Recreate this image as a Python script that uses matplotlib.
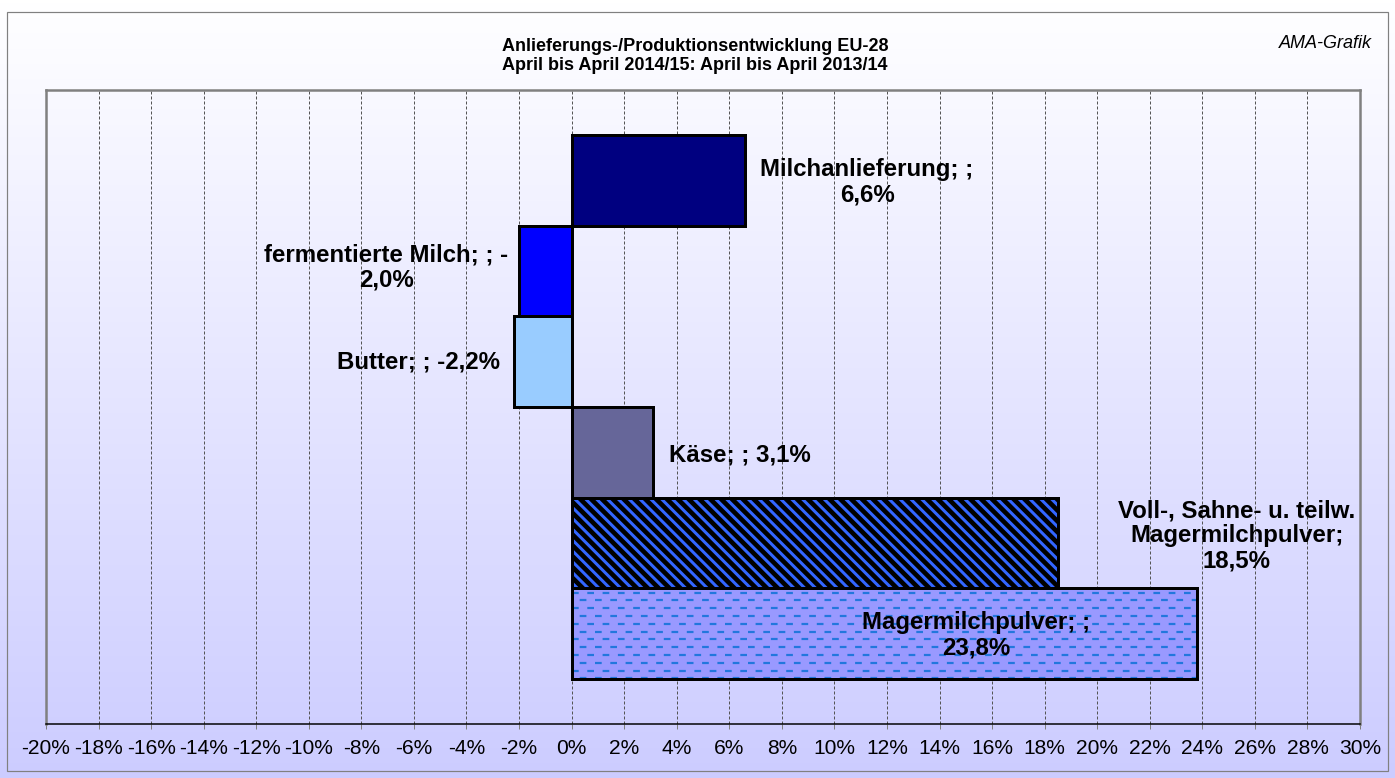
import numpy as np
import matplotlib
matplotlib.use('Agg')
import matplotlib.pyplot as plt
from matplotlib.patches import Rectangle

plt.rcParams['font.family'] = ['Liberation Sans', 'DejaVu Sans']
plt.rcParams['lines.scale_dashes'] = False

DPI = 130
W, H = 1395, 778
def pt(px): return px * 72.0 / DPI   # pixel -> points

# ---- Daten ----
categories = ['Milchanlieferung', 'fermentierte Milch', 'Butter', 'Käse',
              'Voll-, Sahne- u. teilw. Magermilchpulver', 'Magermilchpulver']
values = [6.6, -2.0, -2.2, 3.1, 18.5, 23.8]
labels = ['Milchanlieferung; ;\n6,6%', 'fermentierte Milch; ; -\n2,0%', 'Butter; ; -2,2%',
          'Käse; ; 3,1%', 'Voll-, Sahne- u. teilw.\nMagermilchpulver;\n18,5%',
          'Magermilchpulver; ;\n23,8%']
colors = ['#000080', '#0000ff', '#99ccff', '#666699', '#000000', '#9999ff']
xticks = list(range(-20, 31, 2))
# label offsets (px) from bar end
lab_off = [(122, -2), (-133, 4), (-95, 0), (87, -3), (179, 7), (-221, -2)]

fig = plt.figure(figsize=(W / DPI, H / DPI), dpi=DPI)

# background gradient
bg = fig.add_axes([0, 0, 1, 1], zorder=-10)
grad = np.linspace(0, 1, 256)[:, None]
top = np.array([1.0, 1.0, 1.0]); bot = np.array([0.80, 0.80, 1.0])
img = top[None, None, :] * (1 - grad[:, :, None]) + bot[None, None, :] * grad[:, :, None]
bg.imshow(img, aspect='auto', extent=[0, 1, 0, 1])
bg.set_xlim(0, 1); bg.set_ylim(0, 1); bg.axis('off')
bg.add_patch(Rectangle((7 / W, 1 - 771 / H), 1381 / W, 759 / H, fill=False,
                       edgecolor='#808080', lw=pt(1.2), transform=bg.transAxes))

L, R, T_, B = 46, 1360, 90, 724
ax = fig.add_axes([L / W, 1 - B / H, (R - L) / W, (B - T_) / H])
ax.patch.set_visible(False)

y = np.arange(len(values))
bars = ax.barh(y, values, height=1.0, color=colors, edgecolor='black', lw=pt(3), zorder=3)

# diagonal stripes (Voll-, Sahne- ...)
plt.rcParams['hatch.linewidth'] = pt(3)
ax.barh(y[4], values[4], height=1.0, color='none', edgecolor='#3366ff', hatch='\\\\\\\\', lw=0, zorder=4)
ax.barh(y[4], values[4], height=1.0, color='none', edgecolor='black', lw=pt(3), zorder=5)

# staggered dashes (Magermilchpulver)
b6 = bars[5]
step = 7.8 / ((B - T_) / 7.0)
rows = np.arange(y[5] - 0.5 + 0.05, y[5] + 0.5, step)
styles = [(0 if k % 2 == 0 else pt(7.6), (pt(6.7), pt(8.6))) for k in range(len(rows))]
lc = ax.hlines(rows, 0, values[5], colors='#2277dd', linestyles=styles, lw=pt(2.2), zorder=4)
lc.set_clip_path(b6)
ax.barh(y[5], values[5], height=1.0, color='none', edgecolor='black', lw=pt(3), zorder=5)

ax.set_xlim(-20, 30)
ax.set_ylim(6, -1)
ax.set_xticks(xticks)
ax.set_xticklabels(['%d%%' % t for t in xticks], fontsize=pt(21))
ax.set_yticks([])
ax.tick_params(axis='x', direction='out', length=pt(5), width=pt(1), color='#808080', pad=pt(10))
ax.xaxis.grid(True, color='#555555', lw=pt(1), linestyle=(0, (pt(3), pt(2))), zorder=1)
ax.set_axisbelow(True)
for s in ['top', 'left', 'right']:
    ax.spines[s].set_color('#808080'); ax.spines[s].set_linewidth(pt(2.5))
ax.spines['bottom'].set_color('black'); ax.spines['bottom'].set_linewidth(pt(1.5))

for i, (v, lab) in enumerate(zip(values, labels)):
    dx, dy = lab_off[i]
    ax.annotate(lab, xy=(v, y[i]), xytext=(pt(dx), pt(dy)), textcoords='offset points',
                ha='center', va='center', multialignment='center', fontsize=pt(24),
                fontweight='bold', zorder=6, linespacing=1.12)

fig.text(695 / W, 1 - 46.5 / H, 'Anlieferungs-/Produktionsentwicklung EU-28', ha='center', va='center',
         fontsize=pt(18), fontweight='bold')
fig.text(695 / W, 1 - 65 / H, 'April bis April 2014/15: April bis April 2013/14', ha='center', va='center',
         fontsize=pt(18), fontweight='bold')
fig.text(1372 / W, 1 - 43 / H, 'AMA-Grafik', ha='right', va='center', fontsize=pt(18), style='italic')

fig.savefig('out.png', dpi=DPI)
